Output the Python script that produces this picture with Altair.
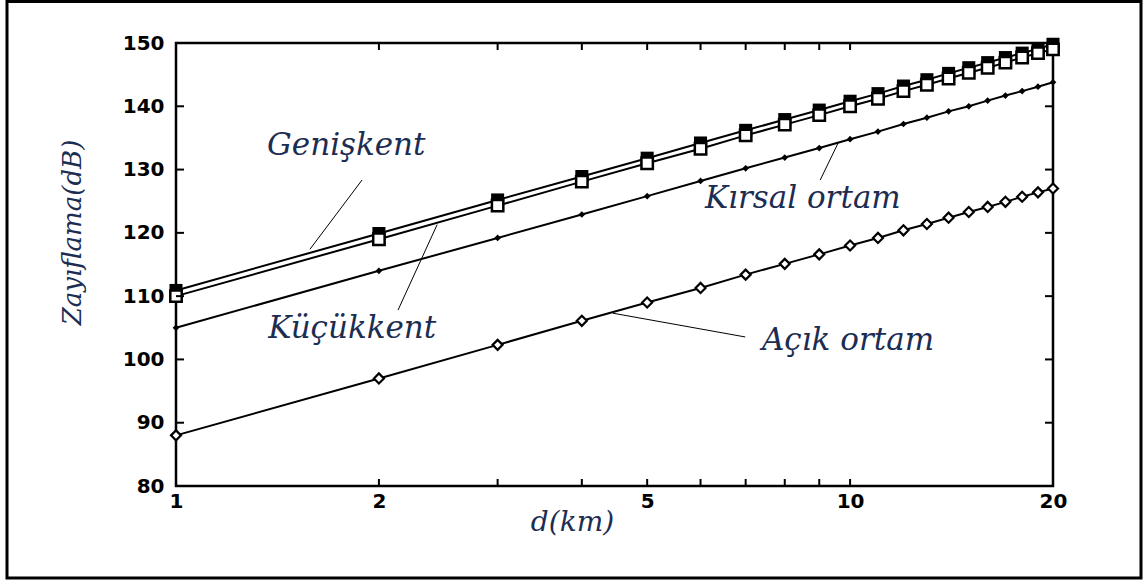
import altair as alt
import pandas as pd

# distance (km) and path loss values (dB)
d_km = list(range(1, 21))
genis = [110.9, 119.9, 125.2, 128.9, 131.8, 134.2, 136.2, 137.9, 139.4, 140.8,
         142.0, 143.2, 144.2, 145.2, 146.1, 146.9, 147.7, 148.4, 149.1, 149.8]
kucuk = [110.0, 119.0, 124.3, 128.1, 131.0, 133.3, 135.4, 137.1, 138.6, 140.0,
         141.2, 142.4, 143.4, 144.4, 145.3, 146.1, 146.9, 147.7, 148.4, 149.0]
kirsal = [105.0, 114.0, 119.2, 122.9, 125.8, 128.2, 130.2, 131.9, 133.4, 134.8,
          136.0, 137.2, 138.2, 139.2, 140.0, 140.9, 141.7, 142.4, 143.1, 143.8]
acik = [88.0, 97.0, 102.3, 106.1, 109.0, 111.3, 113.4, 115.1, 116.6, 118.0,
        119.2, 120.4, 121.4, 122.4, 123.3, 124.1, 124.9, 125.7, 126.4, 127.0]

x_labels = [1, 2, 5, 10, 20]
x_minor = [2, 3, 4, 5, 6, 7, 8, 9, 10]
y_ticks = [80, 90, 100, 110, 120, 130, 140, 150]
y_inner = [90, 100, 110, 120, 130, 140]

# annotation labels and their leader lines (data coordinates)
ann_text = ["Genişkent", "Kırsal ortam", "Küçükkent", "Açık ortam"]
ann_d = [1.365, 6.09, 1.37, 7.40]
ann_v = [132.3, 123.9, 103.4, 101.5]
lead_d1 = [1.888, 9.6, 2.44, 4.45]
lead_v1 = [128.35, 134.2, 121.3, 107.3]
lead_d2 = [1.58, 9.03, 2.135, 6.99]
lead_v2 = [117.4, 128.35, 107.8, 103.55]

W, H = 877, 443
TXT = "#1c2d52"
SERIF = "DejaVu Serif"

xs = alt.Scale(type="log", domain=[1, 20], nice=False)
ys = alt.Scale(domain=[80, 150], nice=False, zero=False)

def series_df(vals):
    return pd.DataFrame({"d": d_km, "v": vals})

X = alt.X("d:Q", scale=xs, axis=alt.Axis(values=x_labels, format="d", ticks=False, grid=False,
                                          domain=False, labelFont="DejaVu Sans", labelFontWeight="bold",
                                          labelFontSize=20, labelColor="black", labelPadding=5,
                                          labelFlush=False,
                                          title="d(km)", titleFont=SERIF, titleFontStyle="italic",
                                          titleFontWeight="normal", titleFontSize=28, titleColor=TXT,
                                          titleX=396, titleY=36, titleBaseline="middle", titleAlign="center"))
Y = alt.Y("v:Q", scale=ys, axis=alt.Axis(values=y_ticks, ticks=False, grid=False, domain=False,
                                          labelFont="DejaVu Sans", labelFontWeight="bold",
                                          labelFontSize=20, labelColor="black", labelPadding=12,
                                          labelFlush=False,
                                          title="Zayıflama(dB)", titleFont=SERIF, titleFontStyle="italic",
                                          titleFontWeight="normal", titleFontSize=26, titleColor=TXT,
                                          titleX=-104, titleY=189, titleBaseline="middle", titleAlign="center",
                                          titleAngle=270))

def line(vals):
    return alt.Chart(series_df(vals)).mark_line(color="black", strokeWidth=2).encode(x=X, y=Y)

def pts(vals, shape, size, filled, sw):
    if filled:
        m = alt.Chart(series_df(vals)).mark_point(shape=shape, size=size, filled=True, color="black", opacity=1)
    else:
        m = alt.Chart(series_df(vals)).mark_point(shape=shape, size=size, filled=True, fill="white",
                                                  stroke="black", strokeWidth=sw, opacity=1)
    return m.encode(x=alt.X("d:Q", scale=xs), y=alt.Y("v:Q", scale=ys))

layers = [
    line(genis), pts(genis, "square", 170, True, 0),
    line(kucuk), pts(kucuk, "square", 130, False, 2.5),
    line(kirsal), pts(kirsal, "diamond", 45, True, 0),
    line(acik), pts(acik, "diamond", 100, False, 2.2),
]

lead_df = pd.DataFrame({"d1": lead_d1, "v1": lead_v1, "d2": lead_d2, "v2": lead_v2})
leaders = alt.Chart(lead_df).mark_rule(color="black", strokeWidth=1).encode(
    x=alt.X("d1:Q", scale=xs), y=alt.Y("v1:Q", scale=ys), x2="d2:Q", y2="v2:Q")

ann_df = pd.DataFrame({"d": ann_d, "v": ann_v, "t": ann_text})
labels = alt.Chart(ann_df).mark_text(align="left", baseline="alphabetic", font=SERIF, fontStyle="italic",
                                     fontSize=31, color=TXT).encode(
    x=alt.X("d:Q", scale=xs), y=alt.Y("v:Q", scale=ys), text="t:N")

# inward tick marks on all four sides
xt = pd.DataFrame({"t": x_minor})
yt = pd.DataFrame({"t": y_inner})
tick_b = alt.Chart(xt).mark_rule(color="black", strokeWidth=2).encode(
    x=alt.X("t:Q", scale=xs), y=alt.value(H), y2=alt.value(H - 7))
tick_t = alt.Chart(xt).mark_rule(color="black", strokeWidth=2).encode(
    x=alt.X("t:Q", scale=xs), y=alt.value(0), y2=alt.value(7))
tick_l = alt.Chart(yt).mark_rule(color="black", strokeWidth=2).encode(
    y=alt.Y("t:Q", scale=ys), x=alt.value(0), x2=alt.value(8))
tick_r = alt.Chart(yt).mark_rule(color="black", strokeWidth=2).encode(
    y=alt.Y("t:Q", scale=ys), x=alt.value(W), x2=alt.value(W - 8))

frame = alt.Chart(pd.DataFrame({"a": [0]})).mark_rect(filled=False, stroke="black", strokeWidth=3).encode(
    x=alt.value(-169), x2=alt.value(965), y=alt.value(-41.5), y2=alt.value(535))

chart = alt.layer(frame, *layers, leaders, labels, tick_b, tick_t, tick_l, tick_r).properties(
    width=W, height=H, padding={"left": 5, "top": 0, "right": 0, "bottom": 0}, background="white"
).configure_view(stroke="black", strokeWidth=2.5)

chart.save("out.html", embed_options={"renderer": "svg", "actions": False})
